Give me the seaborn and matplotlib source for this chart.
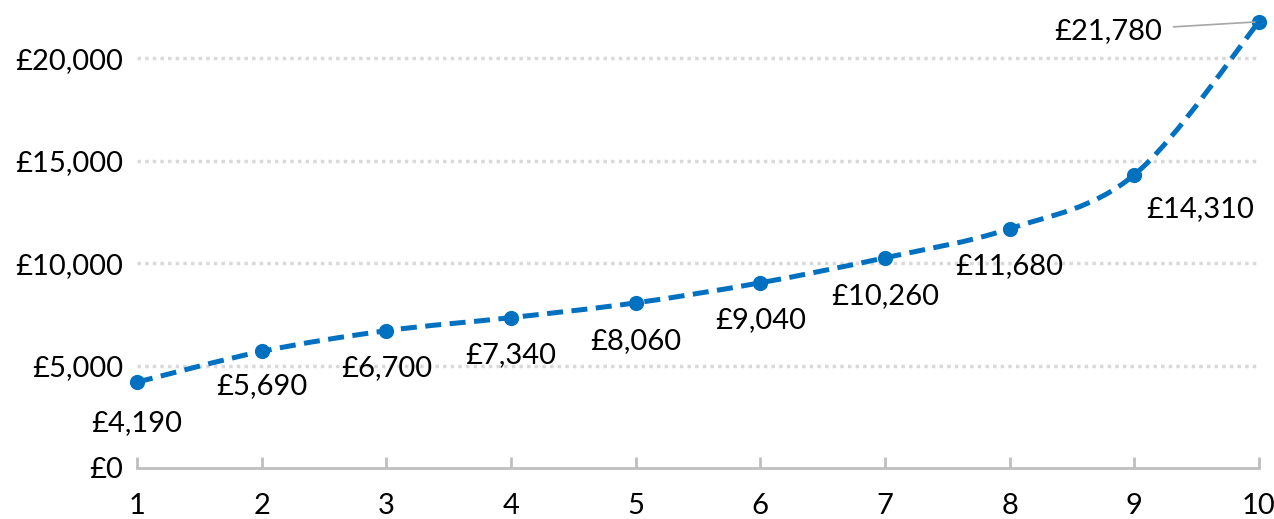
import numpy as np
import pandas as pd
import matplotlib
matplotlib.use("Agg")
import matplotlib.pyplot as plt
from matplotlib.path import Path
from matplotlib.patches import PathPatch
from matplotlib.ticker import FuncFormatter
import seaborn as sns

# ---- data ----
deciles = [1, 2, 3, 4, 5, 6, 7, 8, 9, 10]
values = [4190, 5690, 6700, 7340, 8060, 9040, 10260, 11680, 14310, 21780]
y_ticks = [0, 5000, 10000, 15000, 20000]

df = pd.DataFrame({"decile": deciles, "value": values})

sns.set_theme(style="white")
plt.rcParams["font.family"] = ["Lato", "DejaVu Sans"]

BLUE = "#0070C0"
GRID = "#D9D9D9"
AXIS = "#BFBFBF"
FS = 21

fig = plt.figure(figsize=(12.74, 5.19), dpi=100)
ax = fig.add_axes([137 / 1274, 51 / 519, (1259 - 137) / 1274, (512 - 51) / 519])

# smoothed line via cubic Bezier path (Catmull-Rom control points)
x = np.array(deciles, dtype=float)
y = np.array(values, dtype=float)
n = len(x)
verts = [(x[0], y[0])]
codes = [Path.MOVETO]
for i in range(n - 1):
    p0 = (x[max(i - 1, 0)], y[max(i - 1, 0)])
    p1 = (x[i], y[i])
    p2 = (x[i + 1], y[i + 1])
    p3 = (x[min(i + 2, n - 1)], y[min(i + 2, n - 1)])
    c1 = (p1[0] + (p2[0] - p0[0]) / 6, p1[1] + (p2[1] - p0[1]) / 6)
    c2 = (p2[0] - (p3[0] - p1[0]) / 6, p2[1] - (p3[1] - p1[1]) / 6)
    verts += [c1, c2, p2]
    codes += [Path.CURVE4] * 3
patch = PathPatch(Path(verts, codes), facecolor="none", edgecolor=BLUE,
                  linewidth=3.6, linestyle=(0, (3.2, 1.7)), zorder=3,
                  capstyle="butt", clip_on=False)
ax.add_patch(patch)

sns.scatterplot(data=df, x="decile", y="value", ax=ax, color=BLUE, s=120,
                edgecolor=BLUE, linewidth=0, zorder=4, legend=False,
                clip_on=False)

ax.set_xlim(1, 10)
ax.set_ylim(0, 22500)
ax.set_xticks(deciles)
ax.set_yticks(y_ticks)
ax.yaxis.set_major_formatter(FuncFormatter(lambda v, p: f"£{int(v):,}"))
ax.set_xlabel("")
ax.set_ylabel("")

for v in y_ticks[1:]:
    ax.axhline(v, color=GRID, linewidth=2.5, linestyle=(0, (1, 1.2)), zorder=1)

for s in ["top", "right", "left"]:
    ax.spines[s].set_visible(False)
ax.spines["bottom"].set_color(AXIS)
ax.spines["bottom"].set_linewidth(2)
ax.spines["bottom"].set_zorder(2)
ax.tick_params(axis="x", direction="in", length=8, width=2, color=AXIS,
               labelsize=FS, pad=18, labelcolor="black", bottom=True)
ax.tick_params(axis="y", length=0, labelsize=FS, pad=10, labelcolor="black")

# data labels
offsets = [(0, -41), (0, -35), (0, -37), (0, -37), (0, -38), (0, -37),
           (0, -38), (0, -37), (66, -34)]
for i in range(n - 1):
    ax.annotate(f"£{values[i]:,}", (deciles[i], values[i]),
                xytext=offsets[i], textcoords="offset pixels",
                ha="center", va="center", fontsize=FS, color="black", zorder=5)

ax.annotate(f"£{values[-1]:,}", (deciles[-1], values[-1]),
            xytext=(-97, -9), textcoords="offset pixels",
            ha="right", va="center", fontsize=FS, color="black", zorder=5,
            arrowprops=dict(arrowstyle="-", color="#A6A6A6", lw=1.2,
                            shrinkA=6, shrinkB=3))

for lab in ax.get_xticklabels() + ax.get_yticklabels():
    lab.set_color("black")

fig.savefig("out.png", dpi=100)
